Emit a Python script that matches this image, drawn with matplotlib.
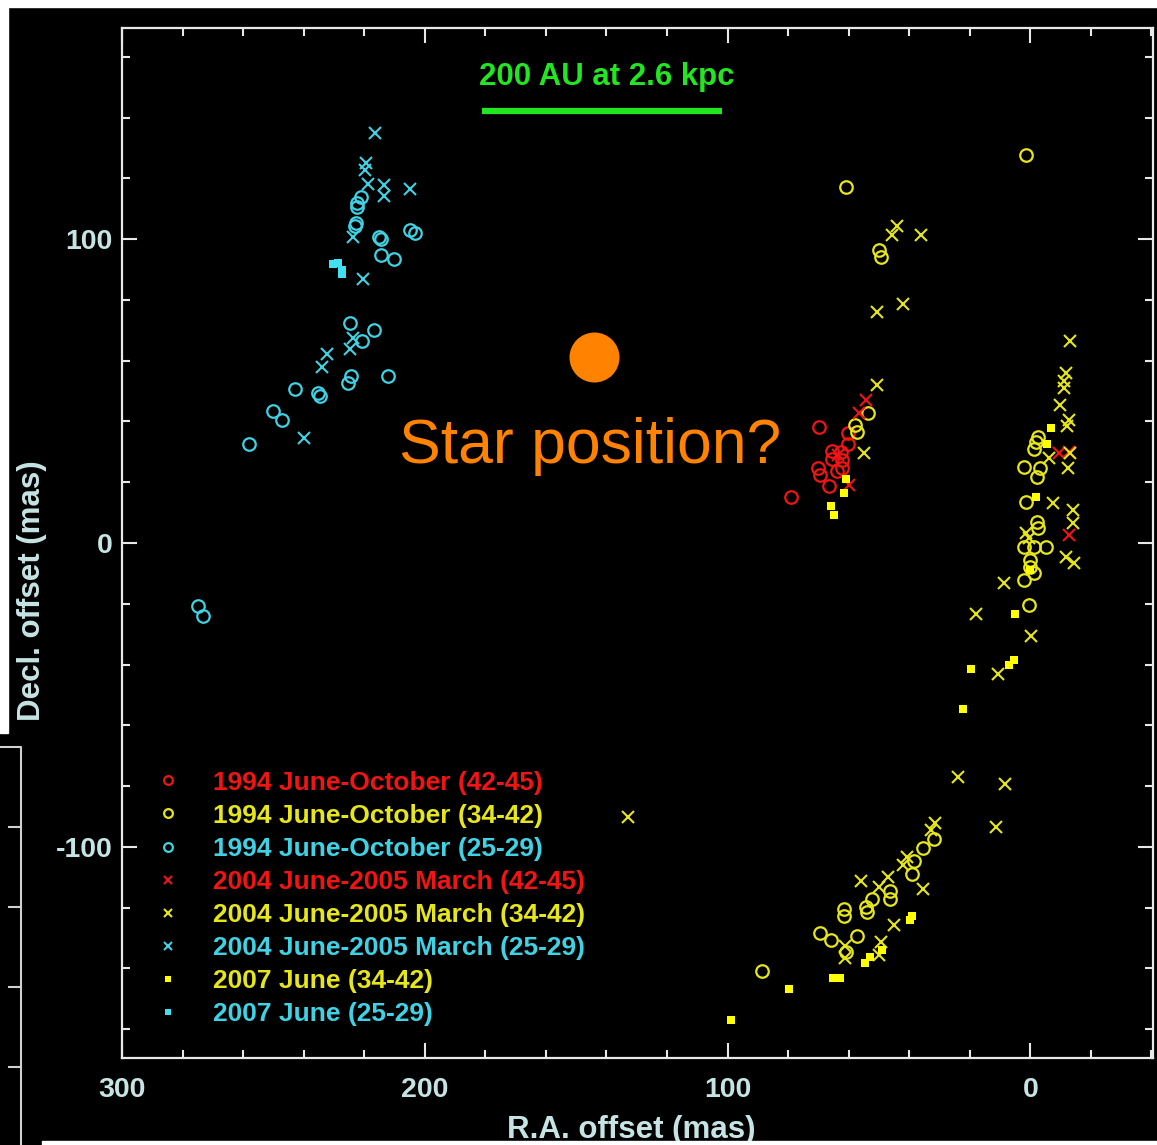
import matplotlib.pyplot as plt
from matplotlib.patches import Rectangle
from matplotlib.lines import Line2D

# ---- data (R.A. offset, Decl. offset in mas) ----
c94_ra = [221.1, 222.4, 222.4, 222.8, 223.1, 215.2, 214.5, 205.0, 203.3, 214.5, 210.2, 224.8, 216.8,
          220.8, 224.4, 225.4, 212.2, 242.9, 235.3, 234.7, 250.2, 247.2, 258.1, 274.9, 273.3]
c94_dec = [113.8, 111.8, 110.5, 105.3, 104.3, 100.7, 100.0, 103.0, 102.0, 94.7, 93.4, 72.4, 70.1,
           66.4, 54.9, 52.6, 54.9, 50.7, 49.3, 48.4, 43.4, 40.5, 32.6, -20.7, -24.0]

c04_ra = [216.5, 219.5, 219.8, 218.8, 213.5, 213.5, 205.0, 223.8, 220.5, 223.8, 224.8, 232.3, 234.0, 239.9]
c04_dec = [134.9, 125.0, 122.7, 118.1, 117.8, 114.1, 116.4, 100.7, 86.8, 67.4, 63.8, 62.2, 57.9, 34.5]

c07_ra = [230.4, 228.7, 227.4, 227.4]
c07_dec = [91.8, 92.1, 89.8, 88.5]

r94_ra = [69.7, 60.3, 60.2, 65.4, 62.7, 65.4, 62.1, 70.2, 69.5, 63.8, 62.1, 66.6, 79.2]
r94_dec = [38.3, 36.1, 32.6, 30.4, 30.0, 27.5, 27.3, 24.6, 22.4, 23.8, 24.6, 18.8, 15.0]

r04_ra = [54.4, 56.7, 60.0, 63.6, -9.3, -12.6, -12.6]
r04_dec = [47.0, 42.7, 19.1, 28.9, 29.5, 30.0, 2.6]

y94_ra = [61.0, 50.1, 49.3, 53.7, 57.8, 57.2, 1.3, -2.4, -1.7, -1.1, 2.2, -3.3, -2.2, 1.3, -2.2,
          -2.4, 2.2, -1.1, -5.0, 0.0, 0.0, -1.1, 2.2, 0.6, 31.9, 35.5, 38.5, 39.0, 46.4, 46.4,
          52.2, 54.2, 53.8, 61.6, 61.6, 69.6, 66.0, 57.4, 61.0, 88.6]
y94_dec = [117.2, 96.4, 94.0, 42.7, 38.8, 36.6, 127.6, 35.0, 33.3, 31.1, 25.1, 24.6, 21.8, 13.6, 7.0,
           4.8, -1.2, -1.2, -1.2, -5.6, -7.8, -10.0, -12.2, -20.4, -97.4, -100.3, -104.5, -108.9, -114.7, -117.1,
           -117.1, -119.8, -121.3, -120.5, -122.9, -128.5, -130.6, -129.2, -134.6, -140.9]

y04_ra = [44.2, 45.6, 36.1, 42.0, 50.6, 50.8, 55.0, -13.2, -11.9, -11.2, -11.2, -9.7, -12.6, -12.1,
          -6.0, -13.2, -12.3, -7.5, -14.1, -14.1, -11.9, -14.3, 1.3, 0.5, 8.8, 17.9, -0.2, 10.8, 23.9,
          8.5, 11.3, 31.4, 32.8, 40.7, 42.0, 35.5, 47.1, 50.1, 55.9, 45.1, 49.3, 61.1, 61.1, 50.1, 133.0]
y04_dec = [104.3, 101.3, 101.3, 78.8, 75.9, 52.0, 29.5, 66.5, 55.8, 53.4, 50.9, 45.4, 40.5, 38.5,
           27.9, 29.5, 24.6, 13.1, 10.9, 6.5, -4.5, -6.7, 3.2, 1.5, -13.3, -23.4, -30.6, -43.1, -77.1,
           -79.3, -93.6, -92.2, -94.4, -103.4, -105.9, -113.9, -109.8, -113.3, -111.4, -125.7, -131.4, -132.6, -136.6, -135.5, -90.1]

y07_ra = [61.0, 61.6, 66.0, 64.7, -6.8, -5.5, -1.7, 5.0, 0.0, 19.5, 5.5, 7.2, 22.3, 39.0, 39.8,
          49.0, 53.0, 54.5, 65.3, 63.0, 79.8, 98.8]
y07_dec = [21.0, 16.5, 12.2, 9.2, 37.7, 32.6, 15.2, -23.4, -8.9, -41.5, -38.5, -40.1, -54.6, -122.7, -124.2,
           -134.1, -136.3, -138.1, -143.1, -143.1, -146.7, -156.9]

labels = ['1994 June-October (42-45)', '1994 June-October (34-42)', '1994 June-October (25-29)',
          '2004 June-2005 March (42-45)', '2004 June-2005 March (34-42)', '2004 June-2005 March (25-29)',
          '2007 June (34-42)', '2007 June (25-29)']

star_ra, star_dec = 144.2, 61.2
bar_ra = [181.2, 101.7]
bar_dec = [142.1, 142.1]

RED = '#f01414'
YEL = '#e6e619'
CYN = '#3fd2e4'
PALE = '#c6e4e4'

plt.rcParams['font.family'] = ['Liberation Sans', 'DejaVu Sans']
plt.rcParams['font.weight'] = 'bold'
plt.rcParams['axes.unicode_minus'] = False

fig = plt.figure(figsize=(11.57, 11.45), dpi=100, facecolor='black')
ax = fig.add_axes([122 / 1157, 1 - 1058 / 1145, 1031 / 1157, 1030 / 1145])
ax.set_facecolor('black')

circ = dict(ls='none', marker='o', mfc='none', ms=9, mew=1.6)
cross = dict(ls='none', marker='x', ms=9, mew=1.5)
sq = dict(ls='none', marker='s', ms=5.5, mew=0)

h = []
h += ax.plot(r94_ra, r94_dec, mec=RED, **circ)
h += ax.plot(y94_ra, y94_dec, mec=YEL, **circ)
h += ax.plot(c94_ra, c94_dec, mec=CYN, **circ)
h += ax.plot(r04_ra, r04_dec, color=RED, **cross)
h += ax.plot(y04_ra, y04_dec, color=YEL, **cross)
h += ax.plot(c04_ra, c04_dec, color=CYN, **cross)
h += ax.plot(y07_ra, y07_dec, color='#ffff00', **sq)
h += ax.plot(c07_ra, c07_dec, color='#40e0f0', **sq)

leg = ax.legend(h, labels, loc='upper left', bbox_to_anchor=(0.014, 0.297), frameon=False,
                fontsize=19, markerscale=0.7, handlelength=1.0, handletextpad=1.2,
                labelspacing=0.345, borderpad=0.2,
                labelcolor=[RED, YEL, CYN, RED, YEL, CYN, YEL, CYN])

# star and scale bar
ax.plot([star_ra], [star_dec], 'o', color='#ff8200', ms=36, mew=0)
ax.text(208.6, 26.3, 'Star position?', color='#ff8200', fontsize=45, fontweight='normal',
        ha='left', va='baseline')
ax.plot(bar_ra, bar_dec, color='#22e622', lw=4.5, solid_capstyle='butt')
ax.text(140, 153.5, '200 AU at 2.6 kpc', color='#22e622', fontsize=22.5, fontweight='bold',
        ha='center', va='center')

ax.set_xlim(300, -40.5)
ax.set_ylim(-169.5, 169.5)
ax.set_xticks([300, 200, 100, 0])
ax.set_xticks(range(-40, 301, 20), minor=True)
ax.set_yticks([-100, 0, 100])
ax.set_yticks(range(-160, 161, 20), minor=True)
ax.tick_params(which='both', direction='in', top=True, right=True, color='#e8e8e8',
               labelcolor=PALE, labelsize=20.5, width=1.5)
ax.tick_params(which='major', length=11)
ax.tick_params(which='minor', length=6)
ax.tick_params(axis='x', pad=14)
ax.tick_params(axis='y', pad=7)
for s in ax.spines.values():
    s.set_color('#e8e8e8')
    s.set_linewidth(1.6)

ax.set_xlabel('R.A. offset (mas)', color=PALE, fontsize=22.5, fontweight='bold', va='center')
ax.set_ylabel('Decl. offset (mas)', color=PALE, fontsize=22.5, fontweight='bold', va='center')
ax.xaxis.set_label_coords(0.4937, -0.070)
ax.yaxis.set_label_coords(-0.087, 0.454)

# screenshot framing
W, H = 1157, 1145
fig.patches.append(Rectangle((0, 1 - 7 / H), 1, 7 / H, transform=fig.transFigure,
                             color='white', zorder=10))
fig.patches.append(Rectangle((0, 1 - 733 / H), 8 / W, 733 / H, transform=fig.transFigure,
                             color='white', zorder=10))
fig.patches.append(Rectangle((42 / W, 0), 1, 4 / H, transform=fig.transFigure,
                             color='white', zorder=10))
fig.lines.append(Line2D([0, 21 / W, 21 / W], [1 - 747 / H, 1 - 747 / H, 0],
                        transform=fig.transFigure, color='#d0d0d0', lw=1.5))
for ty in [827, 907, 987, 1067]:
    fig.lines.append(Line2D([9 / W, 21 / W], [1 - ty / H, 1 - ty / H],
                            transform=fig.transFigure, color='#d0d0d0', lw=1.5))

fig.savefig('out.png', dpi=100, facecolor='black')
